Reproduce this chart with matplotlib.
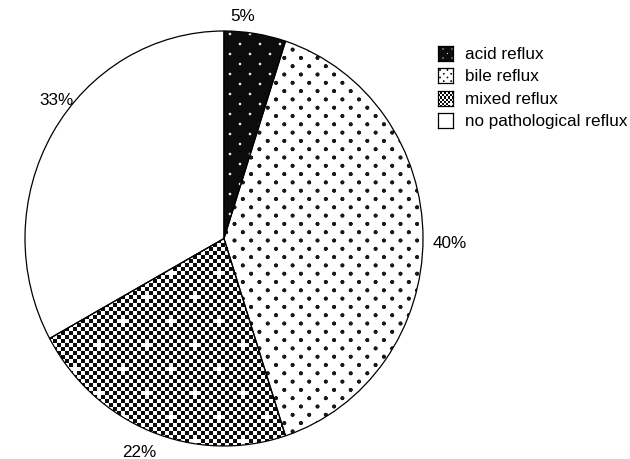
import numpy as np
import matplotlib
matplotlib.use("Agg")
import matplotlib.pyplot as plt

# Distribution of reflux types
categories = ["acid reflux", "bile reflux", "mixed reflux", "no pathological reflux"]
shares = [5, 40, 22, 33]
pct_labels = ["5%", "40%", "22%", "33%"]

W, H, DPI = 630, 460, 100
plt.rcParams['font.family'] = ['Liberation Sans', 'DejaVu Sans']


def dot_coverage(h, w, sx, sy, radius, soft=0.9, ox=0.0, oy=0.0):
    """Soft dots on a staggered lattice (points where i + j is even)."""
    Y, X = np.mgrid[0:h, 0:w] + 0.5
    i0 = np.floor((X - ox) / sx)
    j0 = np.floor((Y - oy) / sy)
    d = np.full((h, w), np.inf)
    for di in (-1, 0, 1, 2):
        for dj in (-1, 0, 1, 2):
            i = i0 + di
            j = j0 + dj
            ok = (i + j) % 2 == 0
            dist = np.hypot(i * sx + ox - X, j * sy + oy - Y)
            d = np.where(ok & (dist < d), dist, d)
    return np.clip((radius - d) / soft + 0.5, 0, 1)


def acid_texture(h, w, s=1.0):
    cov = dot_coverage(h, w, 10 * s, 10 * s, 1.3 * s, ox=5, oy=3)
    return 0.05 + 0.85 * cov


def bile_texture(h, w, s=1.0):
    cov = dot_coverage(h, w, 8.3 * s, 8.3 * s, 2.1 * s, soft=0.7, ox=2, oy=2)
    return 1.0 - 0.9 * cov


def mixed_texture(h, w, s=1.0, ss=4):
    cell = 4.0 * s
    Y, X = np.mgrid[0:h * ss, 0:w * ss]
    X = (X + 0.5) / ss
    Y = (Y + 0.5) / ss
    ci = np.floor(X / cell)
    cj = np.floor(Y / cell)
    fx = X - ci * cell
    fy = Y - cj * cell
    m = 0.12 * s
    inner = (fx > m) & (fx < cell - m) & (fy > m) & (fy < cell - m)
    black = ((ci + cj) % 2 == 0) & inner
    cross = (ci % 6 == 0) & (cj % 6 == 0) & (((ci // 6) + (cj // 6)) % 2 == 0)
    black &= ~cross
    img = np.where(black, 0.04, 1.0)
    return img.reshape(h, ss, w, ss).mean(axis=(1, 3))


def blank_texture(h, w, s=1.0):
    return np.ones((h, w))


textures = [acid_texture, bile_texture, mixed_texture, blank_texture]

fig = plt.figure(figsize=(W / DPI, H / DPI), dpi=DPI)

# Pie axes occupies an integer pixel box so the textures land on the pixel grid
px_left, px_bottom, px_w, px_h = 25, 13, 398, 415
ax = fig.add_axes([px_left / W, px_bottom / H, px_w / W, px_h / H])
wedges, _ = ax.pie(shares, startangle=90, counterclock=False, radius=1.0,
                   colors=['white'] * len(shares),
                   wedgeprops=dict(edgecolor='black', linewidth=0.9))
ax.set_aspect('auto')
ax.set_xlim(-1, 1)
ax.set_ylim(-1, 1)
ax.axis('off')

for wedge, tex in zip(wedges, textures):
    wedge.set_facecolor('none')
    wedge.set_clip_on(False)
    wedge.set_zorder(3)
    im = ax.imshow(tex(px_h, px_w), cmap='gray', vmin=0, vmax=1,
                   extent=(-1, 1, -1, 1), origin='upper',
                   interpolation='nearest', zorder=1, aspect='auto')
    im.set_clip_path(wedge)

# Percentage labels around the pie
angle_shift = [4, -1, -1, -8]
label_radius = [1.08, 1.135, 1.11, 1.075]
for wedge, txt, da, r in zip(wedges, pct_labels, angle_shift, label_radius):
    theta = np.deg2rad((wedge.theta1 + wedge.theta2) / 2 + da)
    ax.text(r * np.cos(theta), r * np.sin(theta), txt, ha='center', va='center',
            fontsize=12.3, clip_on=False)

# Legend with textured swatches
sw = 15
tops = [47, 69, 92, 114]
for cat, tex, top in zip(categories, textures, tops):
    sax = fig.add_axes([438 / W, (H - top - sw) / H, sw / W, sw / H])
    sax.imshow(tex(sw, sw, 0.45) if tex is not mixed_texture else tex(sw, sw, 0.5),
               cmap='gray', vmin=0, vmax=1, interpolation='nearest', aspect='auto')
    sax.set_xticks([])
    sax.set_yticks([])
    for sp in sax.spines.values():
        sp.set_linewidth(0.9)
        sp.set_color('black')
    fig.text(465 / W, (H - top - sw / 2) / H, cat, ha='left', va='center', fontsize=12.3)

fig.savefig("out.png", dpi=DPI)
